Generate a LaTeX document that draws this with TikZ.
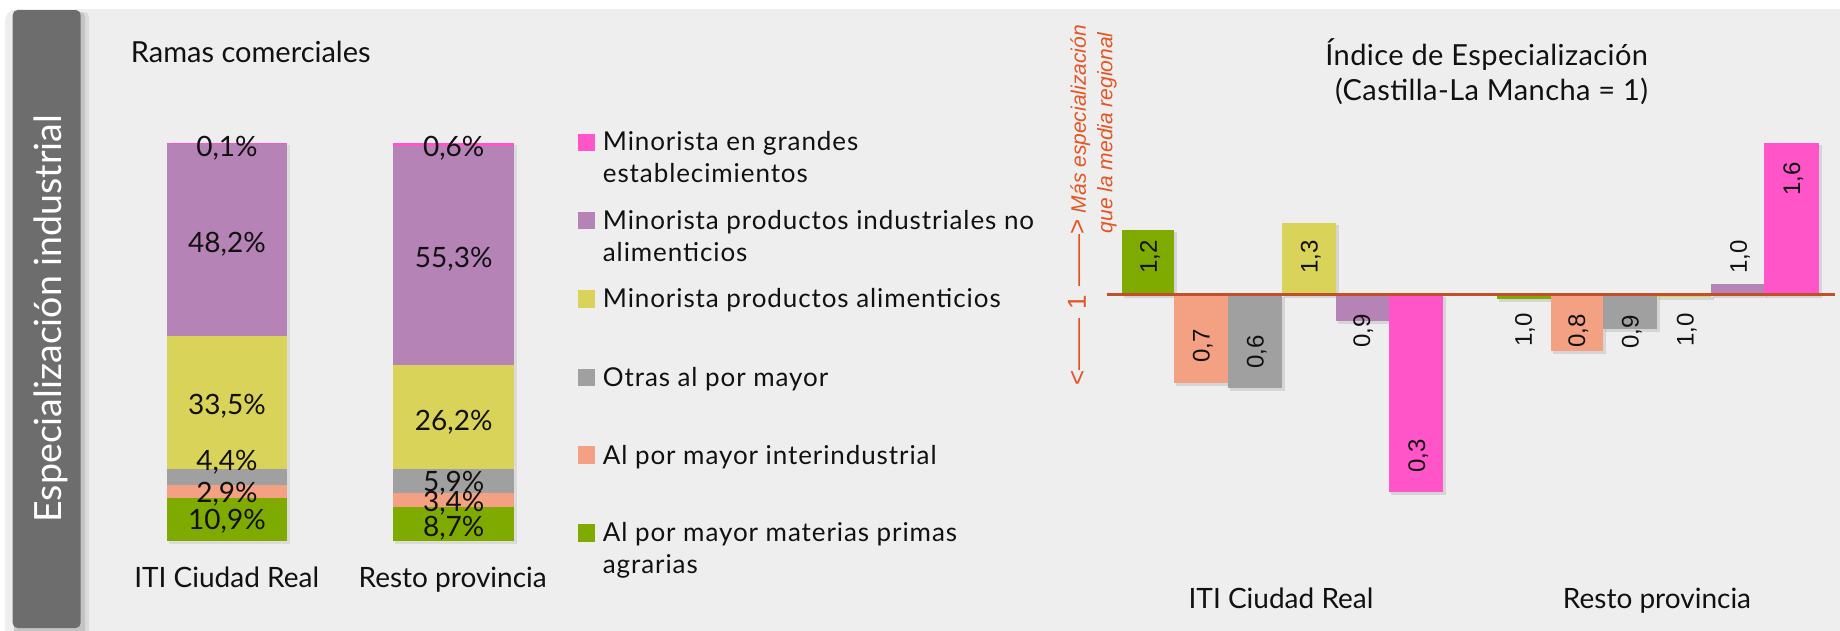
\documentclass[tikz,border=0pt]{standalone}
\usepackage{fontspec}
\setmainfont{Lato}
\newfontfamily\arialf{Liberation Sans}
\newfontfamily\legfont[LetterSpace=3.5]{Lato}
\newfontfamily\ttlfont[LetterSpace=1.5]{Lato}
\definecolor{cpink}{RGB}{255,85,200}
\definecolor{cpurple}{RGB}{181,131,181}
\definecolor{cyellow}{RGB}{218,211,90}
\definecolor{cgray}{RGB}{160,160,160}
\definecolor{csalmon}{RGB}{244,160,131}
\definecolor{cgreen}{RGB}{127,171,0}
\definecolor{cpanel}{RGB}{238,238,238}
\definecolor{ctab}{RGB}{109,109,109}
\definecolor{corange}{RGB}{226,86,38}
\definecolor{cline}{RGB}{192,80,40}
\definecolor{ctext}{RGB}{17,17,17}
\newcommand\mybar[5]{%
  \fill[black,opacity=0.10] ({#1+2},{#2+2}) rectangle ({#3+3},{#4+3});
  \fill[#5] (#1,#2) rectangle (#3,#4);}
\newcommand\myseg[5]{\fill[#5] (#1,#2) rectangle (#3,#4);}
\begin{document}
\begin{tikzpicture}[x=1pt,y=-1pt,
  pct/.style={font=\fontsize{28}{28}\selectfont, text=ctext, inner sep=0pt, anchor=base},
  cat/.style={font=\fontsize{28}{28}\selectfont, text=ctext, inner sep=0pt, anchor=base},
  leg/.style={font=\legfont\fontsize{26}{26}\selectfont, text=ctext, inner sep=0pt, anchor=base west},
  val/.style={font=\arialf\fontsize{24}{24}\selectfont, text=ctext, inner sep=0pt, rotate=90},
  swatch/.style={minimum size=17.4pt, inner sep=0pt, anchor=north west, draw=none},
  ttl/.style={font=\ttlfont\fontsize{29}{29}\selectfont, text=ctext, inner sep=0pt},
  orng/.style={font=\arialf\fontsize{21}{21}\selectfont, text=corange, inner sep=0pt, rotate=90, anchor=east},
]
\useasboundingbox (0,0) rectangle (1840,630);
\fill[white] (0,0) rectangle (1840,630);
% panel
\fill[cpanel,rounded corners=12] (5,9) rectangle (1860,650);
% tab shadow and tab
\fill[black,opacity=0.08,rounded corners=5] (14,12) rectangle (89,640);
\fill[black,opacity=0.10,rounded corners=5] (14,12) rectangle (85,640);
\fill[ctab,rounded corners=5] (12.7,10) rectangle (80.7,628);
\node[rotate=90, anchor=base, text=white, inner sep=0pt, font=\fontsize{37.5}{37.5}\selectfont] (tabtext) at (61.7,318.5) {Especialización industrial};

% ---------- left chart ----------
\node[anchor=base west, inner sep=0pt, text=ctext, font=\fontsize{29}{29}\selectfont] (ramas) at (130.7,62.7) {Ramas comerciales};

% bar 1
\fill[black,opacity=0.08] (168.7,145.3) rectangle (290.3,543.7);
\myseg{166.7}{143.3}{287.3}{143.8}{cpink}
\myseg{166.7}{143.8}{287.3}{335.7}{cpurple}
\myseg{166.7}{335.7}{287.3}{469}{cyellow}
\myseg{166.7}{469}{287.3}{485}{cgray}
\myseg{166.7}{485}{287.3}{498.3}{csalmon}
\myseg{166.7}{498.3}{287.3}{540.7}{cgreen}
% bar 2
\fill[black,opacity=0.08] (395.3,145.3) rectangle (517,543.7);
\myseg{393.3}{143.3}{514}{145.7}{cpink}
\myseg{393.3}{145.7}{514}{365}{cpurple}
\myseg{393.3}{365}{514}{469}{cyellow}
\myseg{393.3}{469}{514}{492.7}{cgray}
\myseg{393.3}{492.7}{514}{506.7}{csalmon}
\myseg{393.3}{506.7}{514}{540.7}{cgreen}

\node[pct] (a1) at (227,156) {0,1\%};
\node[pct] (a2) at (227,252.5) {48,2\%};
\node[pct] (a3) at (227,414.3) {33,5\%};
\node[pct] (a4) at (227,470.7) {4,4\%};
\node[pct] (a5) at (227,502.7) {2,9\%};
\node[pct] (a6) at (227,529.3) {10,9\%};
\node[pct] (b1) at (453.7,156.5) {0,6\%};
\node[pct] (b2) at (453.7,267) {55,3\%};
\node[pct] (b3) at (453.7,430) {26,2\%};
\node[pct] (b4) at (453.7,491.7) {5,9\%};
\node[pct] (b5) at (453.7,511.7) {3,4\%};
\node[pct] (b6) at (453.7,536) {8,7\%};

\node[cat] (catA) at (226.7,587.3) {ITI Ciudad Real};
\node[cat] (catB) at (452.7,587.3) {Resto provincia};

% legend
\node[swatch, fill=cpink]   (s1) at (577.3,133.3) {};
\node[swatch, fill=cpurple] (s2) at (577.3,211.7) {};
\node[swatch, fill=cyellow] (s3) at (577.3,290) {};
\node[swatch, fill=cgray]   (s4) at (577.3,368.3) {};
\node[swatch, fill=csalmon] (s5) at (577.3,446) {};
\node[swatch, fill=cgreen]  (s6) at (577.3,524) {};
\node[leg] (l1a) at (602.7,150.7) {Minorista en grandes};
\node[leg] (l1b) at (602.7,182.7) {establecimientos};
\node[leg] (l2a) at (602.7,229) {Minorista productos industriales no};
\node[leg] (l2b) at (602.7,261) {alimenticios};
\node[leg] (l3)  at (602.7,307.3) {Minorista productos alimenticios};
\node[leg] (l4)  at (602.7,386) {Otras al por mayor};
\node[leg] (l5)  at (602.7,464) {Al por mayor interindustrial};
\node[leg] (l6a) at (602.7,541.7) {Al por mayor materias primas};
\node[leg] (l6b) at (602.7,573.7) {agrarias};

% ---------- right chart ----------
\node[ttl, anchor=base east] (t1) at (1648.3,65) {Índice de Especialización};
\node[ttl, anchor=base east] (t2) at (1648.3,100) {(Castilla-La Mancha = 1)};

\node[orng] (o1) at (1079,25) {{\fontsize{26}{26}\selectfont <——\hspace{9pt}1\hspace{9pt}——>}\ \textit{Más especialización}};
\node[orng] (o2) at (1107,31.7) {\textit{que la media regional}};

\mybar{1122.3}{230}{1173.7}{294.5}{cgreen}
\mybar{1173.7}{294.5}{1227.7}{382.7}{csalmon}
\mybar{1227.7}{294.5}{1281.7}{387.7}{cgray}
\mybar{1281.7}{222.7}{1335.7}{294.5}{cyellow}
\mybar{1335.7}{294.5}{1389.3}{321}{cpurple}
\mybar{1389.3}{294.5}{1443.3}{491.7}{cpink}
\mybar{1497.3}{294.5}{1551}{299}{cgreen}
\mybar{1551}{294.5}{1602.7}{350.7}{csalmon}
\mybar{1602.7}{294.5}{1656.7}{329}{cgray}
\mybar{1656.7}{294.5}{1710.7}{296.5}{cyellow}
\mybar{1710.7}{284}{1764.3}{294.5}{cpurple}
\mybar{1764.3}{143.3}{1818.7}{294.5}{cpink}

\coordinate (axL) at (1106.7,294.5);
\coordinate (axR) at (1835,294.5);
\draw[cline, line width=3pt] (axL) -- (axR);

\node[val] (v1)  at (1150,257)    {1,2};
\node[val] (v2)  at (1202.7,346)  {0,7};
\node[val] (v3)  at (1256.7,352)  {0,6};
\node[val] (v4)  at (1310.7,257)  {1,3};
\node[val] (v5)  at (1363.3,331)  {0,9};
\node[val] (v6)  at (1418.3,456)  {0,3};
\node[val] (v7)  at (1525,330)    {1,0};
\node[val] (v8)  at (1578.3,331)  {0,8};
\node[val] (v9)  at (1631.7,331.7){0,9};
\node[val] (v10) at (1686.7,330)  {1,0};
\node[val] (v11) at (1740,257)    {1,0};
\node[val] (v12) at (1793.3,179)  {1,6};

\node[cat] (catC) at (1281,608.3) {ITI Ciudad Real};
\node[cat] (catD) at (1657,608.3) {Resto provincia};
\end{tikzpicture}
\end{document}
